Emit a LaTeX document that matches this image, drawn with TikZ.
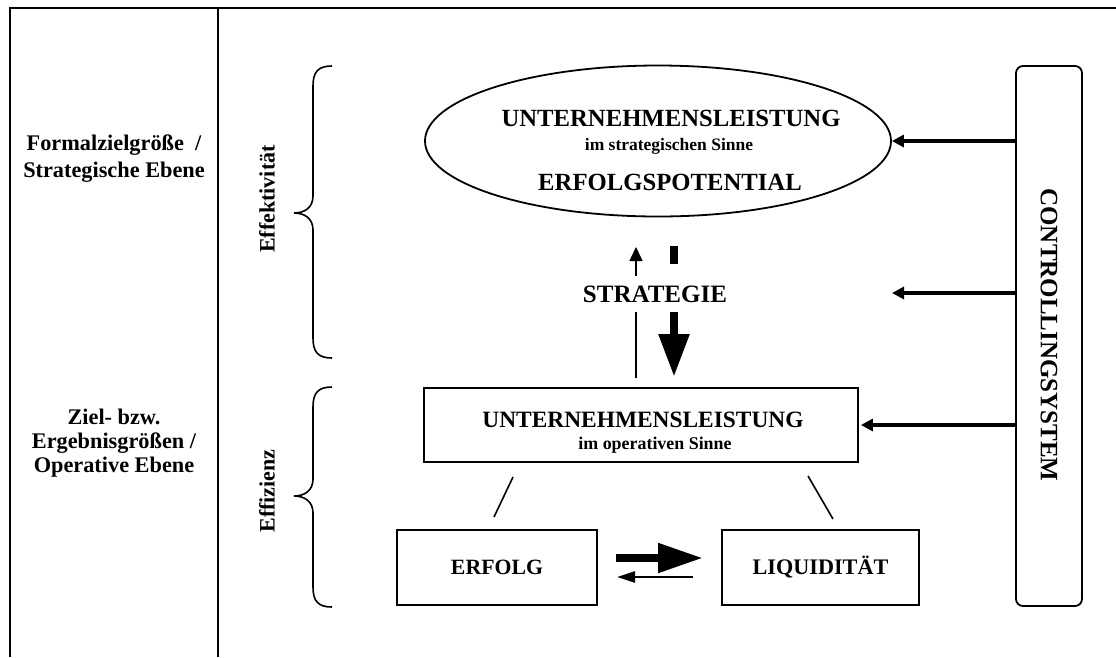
\documentclass[tikz,border=0pt]{standalone}
\usepackage{fontspec}
\setmainfont{Liberation Serif}
\usetikzlibrary{shapes.geometric,arrows.meta}

\newcommand{\fs}[1]{\fontsize{#1}{#1}\selectfont\bfseries}
\newcommand{\fsl}[2]{\fontsize{#1}{#2}\selectfont\bfseries}

\tikzset{
  frame/.style={line width=1.8pt},
  box/.style={draw, line width=1.8pt, inner sep=0pt},
  ctrlarrow/.style={line width=3.2pt, -{Triangle[length=12pt,width=12pt]}},
  thinline/.style={line width=1.6pt},
  txt/.style={inner sep=0pt, font=\fs{22}},
}

\begin{document}
\begin{tikzpicture}[x=1pt,y=-1pt]
\useasboundingbox (0,0) rectangle (1116,657);

% page frame and column divider
\coordinate (tl) at (10,8);
\coordinate (tr) at (1116,8);
\coordinate (bl) at (10,657);
\coordinate (dt) at (218,8);
\coordinate (db) at (218,657);
\draw[frame] (bl) -- (tl) -- (tr);
\draw[frame] (dt) -- (db);

% left column labels
\node[inner sep=0pt, align=center, font=\fsl{22.3}{27}] (lvlS) at (114,159) {Formalzielgröße \ /\\Strategische Ebene};
\node[inner sep=0pt, align=center, font=\fsl{22.3}{24}] (lvlO) at (114,443) {Ziel- bzw.\\Ergebnisgrößen /\\Operative Ebene};

% braces with rotated labels
\coordinate (b1t) at (332,66);
\coordinate (b1m) at (294,213);
\coordinate (b1b) at (332,358);
\draw[thinline] (b1t) .. controls (318,66) and (313,72) .. (313,86)
  -- (313,196) .. controls (313,208) and (304,213) .. (b1m)
  .. controls (304,213) and (313,218) .. (313,230)
  -- (313,338) .. controls (313,352) and (318,358) .. (b1b);
\node[txt, rotate=90] (effekt) at (267,199) {Effektivität};

\coordinate (b2t) at (332,387);
\coordinate (b2m) at (294,496);
\coordinate (b2b) at (332,607);
\draw[thinline] (b2t) .. controls (318,387) and (313,393) .. (313,407)
  -- (313,479) .. controls (313,491) and (304,496) .. (b2m)
  .. controls (304,496) and (313,501) .. (313,513)
  -- (313,587) .. controls (313,601) and (318,607) .. (b2b);
\node[txt, rotate=90] (effiz) at (267,491) {Effizienz};

% strategic level: ellipse
\node[ellipse, draw, line width=1.8pt, minimum width=466pt, minimum height=151pt, inner sep=0pt] (ell) at (658,141) {};
\node[inner sep=0pt, font=\fs{24.7}] (ellA) at (671,118) {UNTERNEHMENSLEISTUNG};
\node[inner sep=0pt, font=\fs{17.5}] (ellB) at (669,146) {im strategischen Sinne};
\node[inner sep=0pt, font=\fs{24.7}] (ellC) at (670,182) {ERFOLGSPOTENTIAL};

% strategy arrows
\node[inner sep=0pt, font=\fs{25}] (strat) at (655,294) {STRATEGIE};
\coordinate (upA) at (636,378);
\coordinate (upB) at (636,312);
\coordinate (upC) at (636,276);
\coordinate (upD) at (636,247);
\draw[thinline] (upA) -- (upB);
\draw[thinline, -{Triangle[length=14pt,width=13pt]}] (upC) -- (upD);
\coordinate (dnA) at (674,246);
\coordinate (dnB) at (674,264);
\coordinate (dnC) at (674,312);
\coordinate (dnD) at (674,377);
\draw[line width=8.5pt] (dnA) -- (dnB);
\draw[line width=8.5pt, -{Triangle[length=43pt,width=29pt]}] (dnC) -- (dnD);

% operative level
\node[box, minimum width=434pt, minimum height=74pt] (ops) at (641,425) {};
\node[inner sep=0pt, font=\fs{23.4}] (opsA) at (643,420) {UNTERNEHMENSLEISTUNG};
\node[inner sep=0pt, font=\fs{17.9}] (opsB) at (655,445) {im operativen Sinne};

\node[box, minimum width=200pt, minimum height=75pt, font=\fs{21.8}] (erf) at (497,567.5) {ERFOLG};
\node[box, minimum width=197pt, minimum height=75pt, font=\fs{22.2}] (liq) at (820.5,567.5) {LIQUIDITÄT};

\coordinate (l1a) at (513,477);
\coordinate (l1b) at (494,517);
\coordinate (l2a) at (808,476);
\coordinate (l2b) at (833,519);
\draw[thinline] (l1a) -- (l1b);
\draw[thinline] (l2a) -- (l2b);

\coordinate (eqA) at (616,558);
\coordinate (eqB) at (703,558);
\coordinate (eqC) at (693,577);
\coordinate (eqD) at (617,577);
\draw[line width=8pt, -{Triangle[length=45pt,width=28pt]}] (eqA) -- (eqB);
\draw[line width=2.6pt, -{Triangle[length=18pt,width=11pt]}] (eqC) -- (eqD);

% controlling system
\node[draw, line width=1.8pt, rounded corners=7pt, minimum width=66pt, minimum height=540pt, inner sep=0pt] (ctrl) at (1049,336) {};
\node[inner sep=0pt, rotate=-90, font=\fs{25}] (ctrlT) at (1049,335) {CONTROLLINGSYSTEM};

\coordinate (midT) at (892,293);
\draw[ctrlarrow] (ctrl.west |- ell.east) -- (ell.east);
\draw[ctrlarrow] (ctrl.west |- midT) -- (midT);
\draw[ctrlarrow] (ctrl.west |- ops.east) -- ([xshift=2pt]ops.east);
\end{tikzpicture}
\end{document}
